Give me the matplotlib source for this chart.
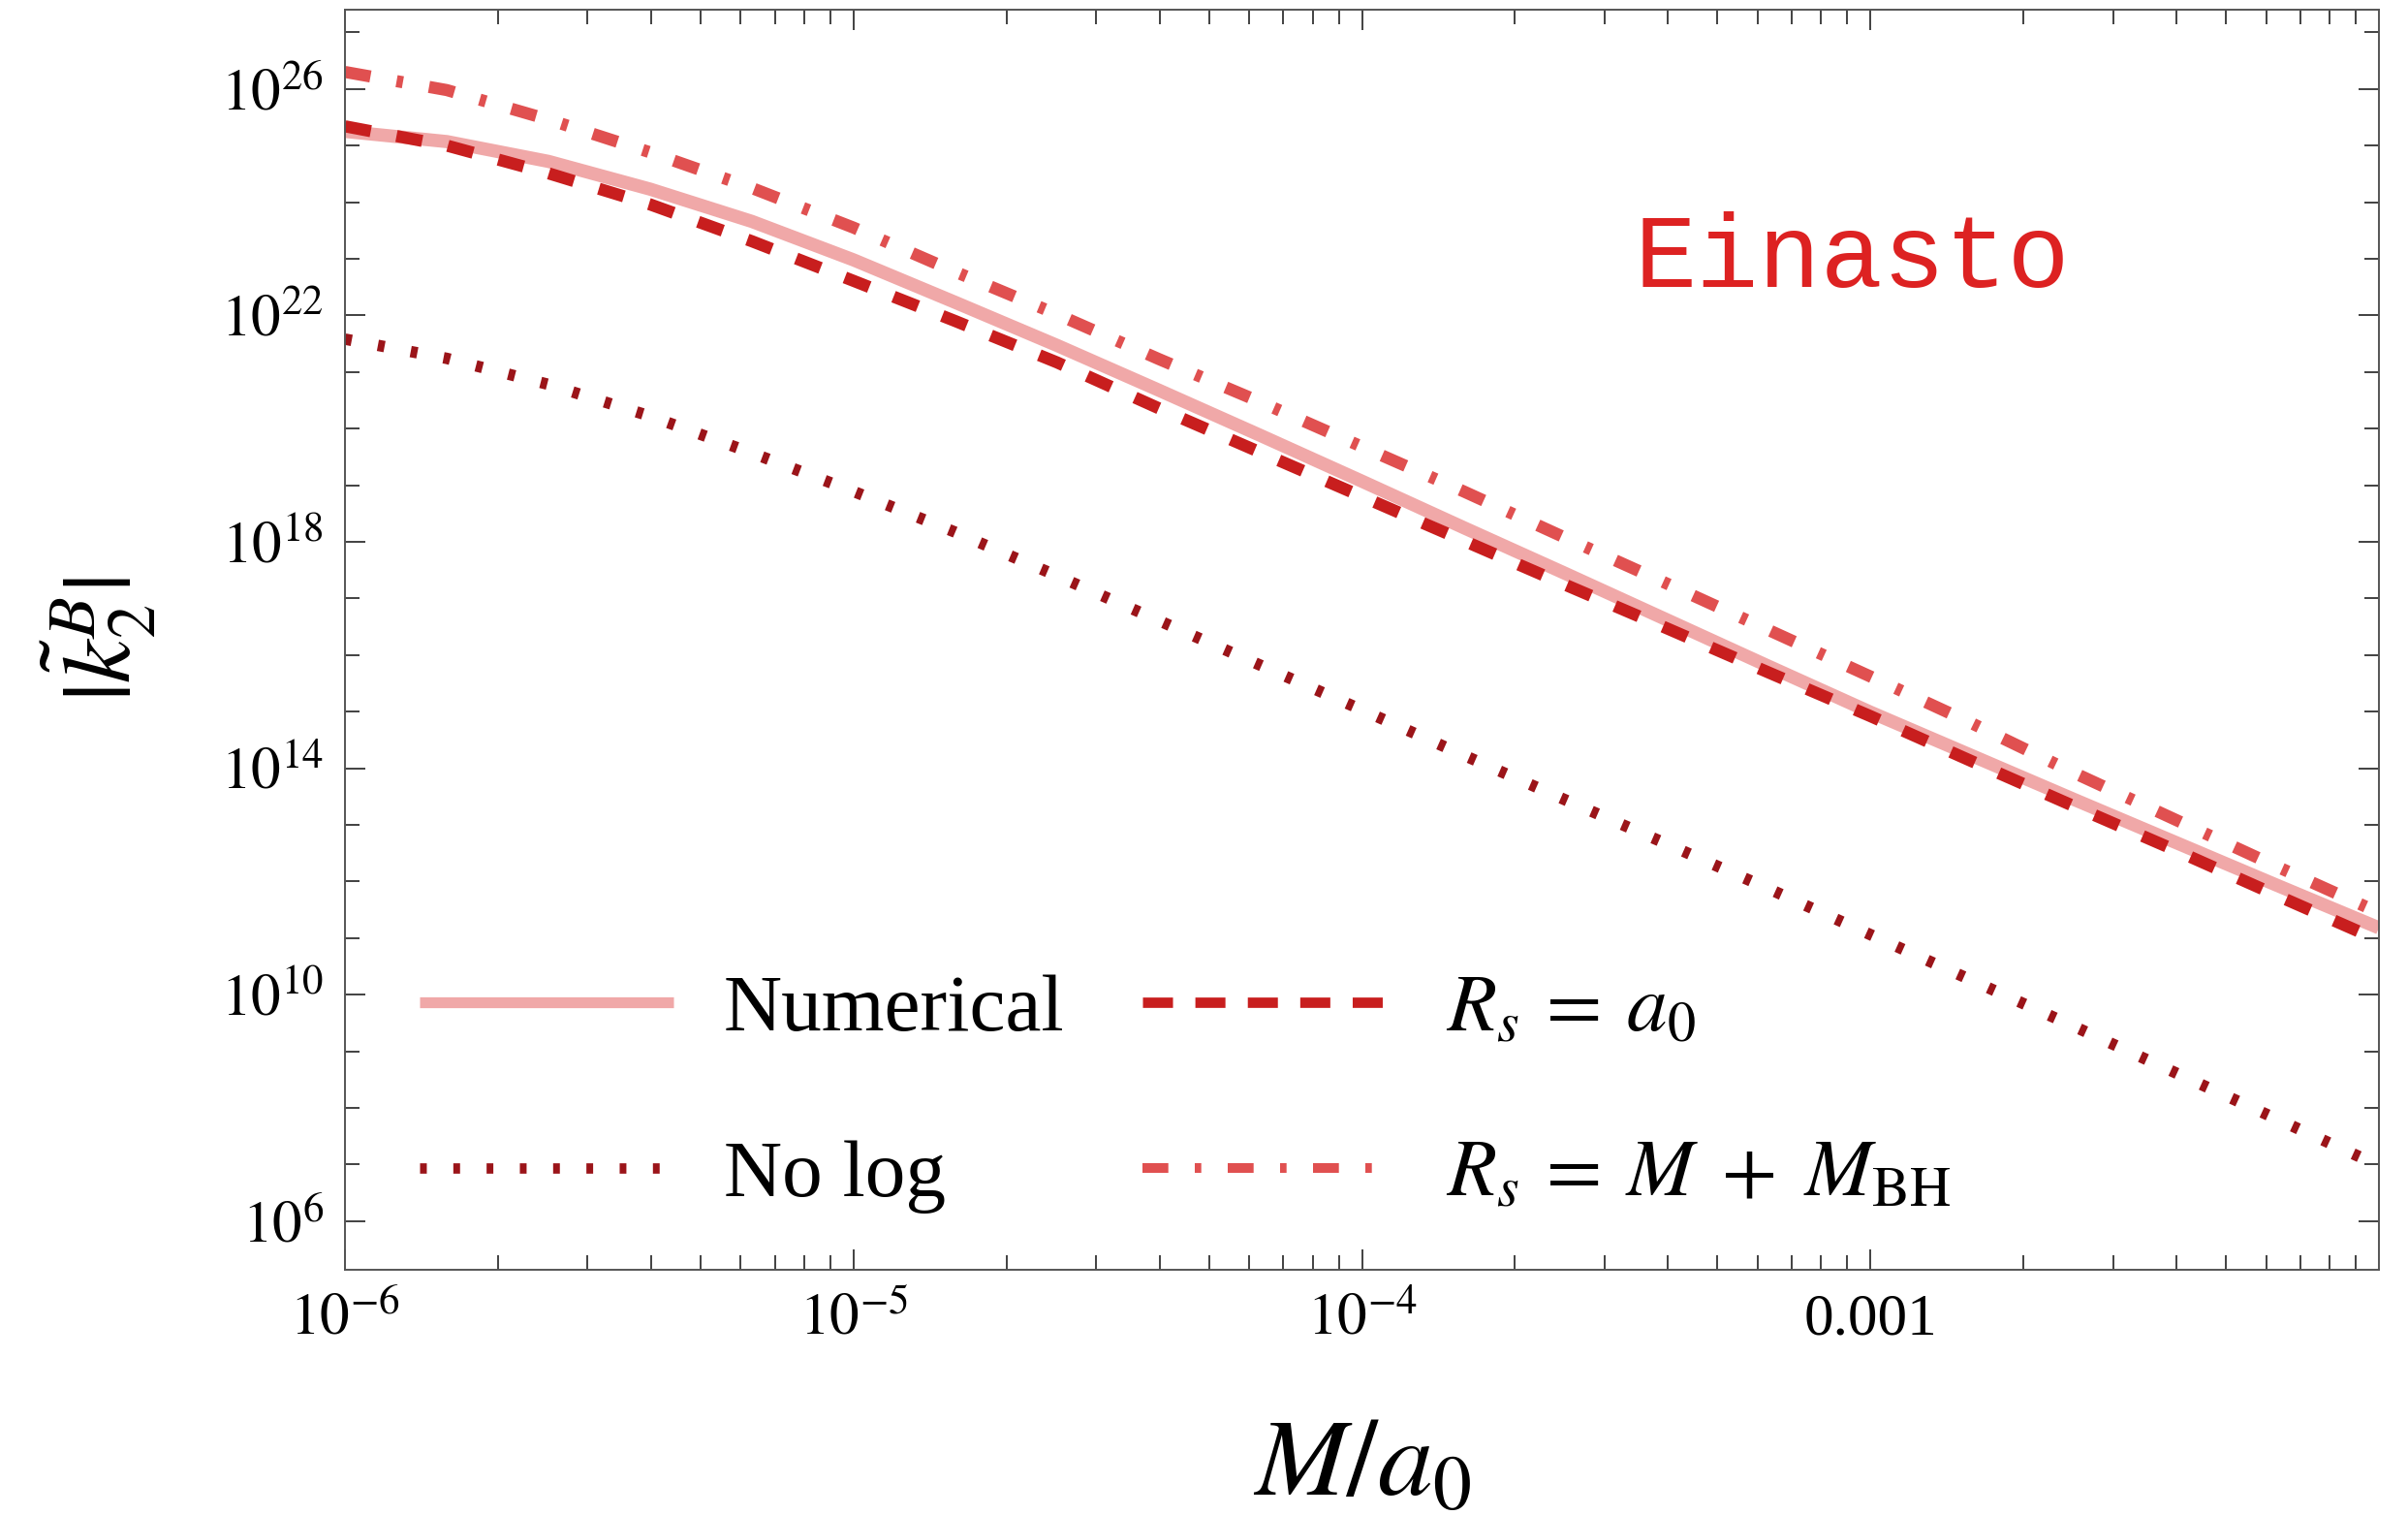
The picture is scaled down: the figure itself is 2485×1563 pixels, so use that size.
import numpy as np
import matplotlib
matplotlib.use("Agg")
import matplotlib.pyplot as plt
from matplotlib.lines import Line2D
from matplotlib.ticker import FixedLocator, FixedFormatter, NullFormatter

plt.rcParams['font.family'] = ['Liberation Serif', 'DejaVu Serif']
plt.rcParams['mathtext.fontset'] = 'stix'

log_m = [-6.0, -5.8, -5.6, -5.4, -5.2, -5.0, -4.8, -4.6, -4.4, -4.2, -4.0,
         -3.8, -3.6, -3.4, -3.2, -3.0, -2.8, -2.6, -2.4, -2.2, -2.0]

# log10 |k2^B| for each curve
numerical = [25.25, 25.07, 24.72, 24.23, 23.66, 22.98, 22.23, 21.47, 20.68, 19.88, 19.07,
             18.25, 17.44, 16.62, 15.80, 14.99, 14.22, 13.45, 12.69, 11.93, 11.18]
rs_a0 = [25.34, 25.00, 24.51, 23.96, 23.31, 22.61, 21.90, 21.17, 20.36, 19.58, 18.80,
         18.02, 17.24, 16.47, 15.69, 14.92, 14.12, 13.33, 12.55, 11.75, 10.96]
rs_mbh = [26.30, 25.98, 25.46, 24.88, 24.25, 23.55, 22.77, 22.02, 21.23, 20.47, 19.68,
          18.89, 18.07, 17.26, 16.44, 15.62, 14.79, 13.92, 13.09, 12.26, 11.45]
no_log = [21.58, 21.24, 20.78, 20.22, 19.57, 18.89, 18.17, 17.40, 16.61, 15.82, 15.03,
          14.23, 13.44, 12.66, 11.87, 11.06, 10.25, 9.44, 8.62, 7.80, 6.98]

labels = ['Numerical', 'No log', r'$R_s\:=\:a_0$', r'$R_s\:=\:M\;+\;M_{\rm BH}$']
x_ticks = [1e-6, 1e-5, 1e-4, 1e-3]
x_ticklabels = [r'$10^{-6}$', r'$10^{-5}$', r'$10^{-4}$', '0.001']
y_major_exp = [6, 10, 14, 18, 22, 26]

c_num, c_nolog, c_a0, c_bh = '#F0A8A8', '#9B1419', '#C81E1E', '#E05050'

x = 10.0 ** np.array(log_m)

fig = plt.figure(figsize=(24.85, 15.63), dpi=100)
ax = fig.add_axes([0.1433, 0.1619, 0.8446, 0.8317])

ax.plot(x, 10.0 ** np.array(numerical), color=c_num, lw=9.8, solid_capstyle='butt')
ax.plot(x, 10.0 ** np.array(no_log), color=c_nolog, lw=8.5, dashes=(0.59, 2.33),
        dash_capstyle='butt')
ax.plot(x, 10.0 ** np.array(rs_a0), color=c_a0, lw=9, dashes=(2.16, 2.16),
        dash_capstyle='butt')
ax.plot(x, 10.0 ** np.array(rs_mbh), color=c_bh, lw=9, dashes=(2.13, 2.19, 0.53, 2.19),
        dash_capstyle='butt')

ax.set_xscale('log')
ax.set_yscale('log')
ax.set_xlim(1e-6, 1e-2)
ax.set_ylim(10 ** 5.14, 10 ** 27.4)

ax.xaxis.set_major_locator(FixedLocator(x_ticks))
ax.xaxis.set_major_formatter(FixedFormatter(x_ticklabels))
minor_x = [k * 10.0 ** e for e in range(-6, -2) for k in range(2, 10)]
ax.xaxis.set_minor_locator(FixedLocator(minor_x))
ax.xaxis.set_minor_formatter(NullFormatter())

ax.yaxis.set_major_locator(FixedLocator([10.0 ** e for e in y_major_exp]))
ax.yaxis.set_major_formatter(FixedFormatter([r'$10^{%d}$' % e for e in y_major_exp]))
ax.yaxis.set_minor_locator(FixedLocator([10.0 ** e for e in range(5, 28)]))
ax.yaxis.set_minor_formatter(NullFormatter())

ax.tick_params(which='both', direction='in', top=True, right=True, color='#333333', width=1.3)
ax.tick_params(which='major', length=15, labelsize=44)
ax.tick_params(which='minor', length=10.5)
ax.tick_params(axis='x', which='major', pad=17)
ax.tick_params(axis='y', which='major', pad=16)
for sp in ax.spines.values():
    sp.set_color('#555555')
    sp.set_linewidth(1.4)

ax.set_xlabel(r'$M/a_0$', fontsize=82, va='center', ha='center')
ax.xaxis.set_label_coords(0.5, -0.157)
ax.set_ylabel(r'$|\tilde{k}_2^B|$', fontsize=72, va='center', ha='center')
ax.yaxis.set_label_coords(-0.121, 0.5)

ax.text(0.741, 0.8015, 'Einasto', transform=ax.transAxes, color='#DD2222',
        fontsize=77, family=['Liberation Mono', 'DejaVu Sans Mono'], ha='center', va='center')

# legend keys are drawn a bit thinner than the curves, as in the original
handles = [
    Line2D([], [], color=c_num, lw=8.1, solid_capstyle='butt'),
    Line2D([], [], color=c_nolog, lw=7.7, dashes=(0.65, 2.56), dash_capstyle='butt'),
    Line2D([], [], color=c_a0, lw=7.7, dashes=(2.9, 2.16), dash_capstyle='butt'),
    Line2D([], [], color=c_bh, lw=7.2, dashes=(2.67, 2.73, 0.67, 2.73), dash_capstyle='butt'),
]
ax.legend(handles, labels, loc='lower left', bbox_to_anchor=(0.001, -0.013), ncol=2,
          frameon=False, fontsize=60, handlelength=3.14, handletextpad=0.62,
          columnspacing=0.97, labelspacing=1.13)

fig.savefig('out.png', dpi=100)
